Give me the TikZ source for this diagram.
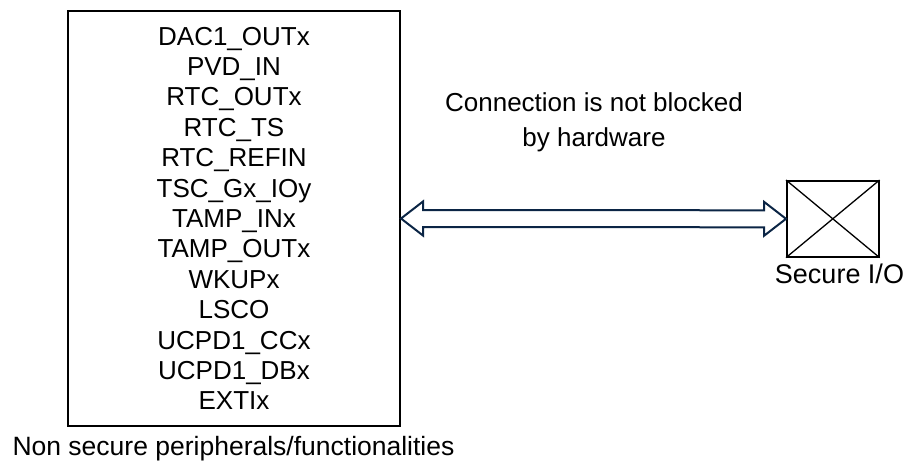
\documentclass[tikz,border=0pt]{standalone}
\usepackage{fontspec}
\setmainfont{Liberation Sans}
\usetikzlibrary{calc}
\definecolor{navy}{HTML}{0B2545}
\begin{document}
\begin{tikzpicture}[x=1pt,y=-1pt,
  boxstyle/.style={draw=black, line width=2pt, inner sep=0pt, anchor=north west},
  txt/.style={font=\fontsize{26}{30.4}\selectfont, align=center, inner sep=0pt},
  linkarrow/.style={draw=navy, line width=2pt, line join=miter}]
\useasboundingbox (0,0) rectangle (906,467);
\node[boxstyle, minimum width=332pt, minimum height=415pt] (blk) at (67,10) {};
\node[txt] (lst) at (blk.center) {DAC1\_OUTx\\PVD\_IN\\RTC\_OUTx\\RTC\_TS\\RTC\_REFIN\\TSC\_Gx\_IOy\\TAMP\_INx\\TAMP\_OUTx\\WKUPx\\LSCO\\UCPD1\_CCx\\UCPD1\_DBx\\EXTIx};
\node[txt, font=\fontsize{26.5}{30}\selectfont, anchor=base] (cap) at (233.5,455) {Non secure peripherals/functionalities};
\node[boxstyle, line width=1.6pt, minimum width=92pt, minimum height=76pt] (sec) at (786,180) {};
\draw[line width=1.3pt] (sec.north west) -- (sec.south east);
\draw[line width=1.3pt] (sec.south west) -- (sec.north east);
\node[txt, font=\fontsize{27}{30}\selectfont, anchor=base] (secl) at (839.5,283) {Secure I/O};
\node[txt, font=\fontsize{26}{35}\selectfont] (conn) at (594,122) {Connection is not blocked\\by hardware};
\draw[linkarrow] (blk.east) -- ++(22,-17) -- ++(0,8.5) -- ($(sec.west)+(-22,-8.5)$) -- ++(0,-8.5) -- (sec.west) -- ++(-22,17) -- ++(0,-8.5) -- ($(blk.east)+(22,8.5)$) -- ++(0,8.5) -- cycle;
\end{tikzpicture}
\end{document}
